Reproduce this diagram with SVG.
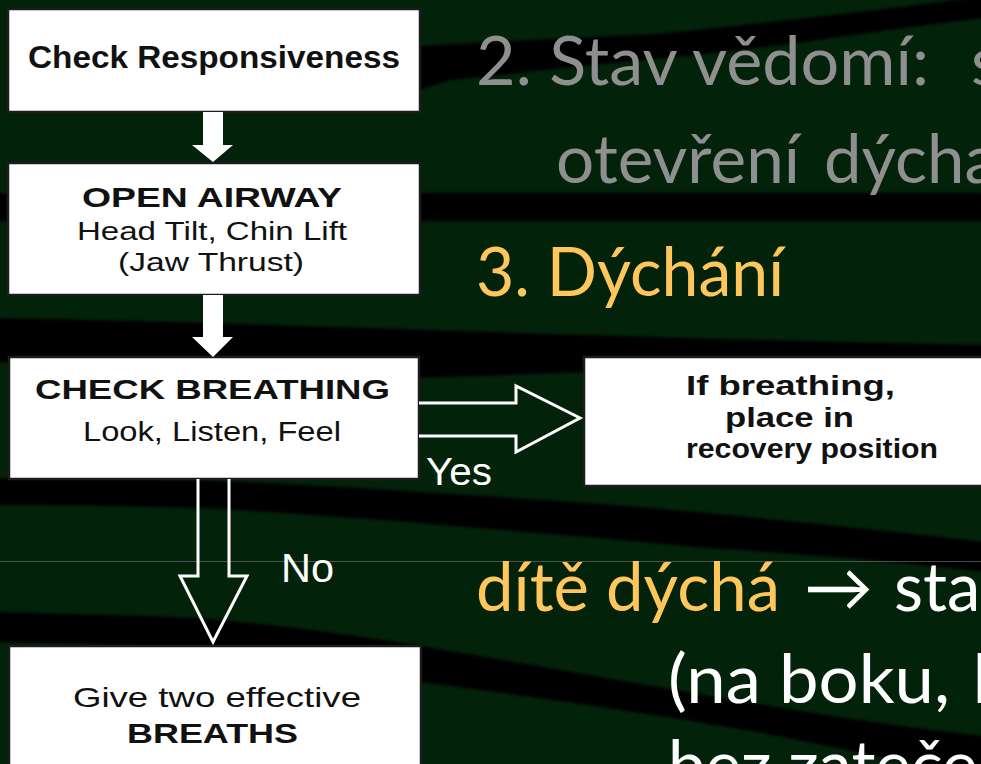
<svg xmlns="http://www.w3.org/2000/svg" width="981" height="764" viewBox="0 0 981 764">
  <defs>
    <filter id="soft" x="-5%" y="-20%" width="110%" height="140%">
      <feGaussianBlur stdDeviation="1.6"/>
    </filter>
    <style>
      .bg { fill: #03220a; }
      .band { fill: #000; }
      .box { fill: #fff; stroke: #1c1c1c; stroke-width: 2.5; }
      .bt { font-family: "Liberation Sans", Arial, sans-serif; fill: #111; }
      .b { font-weight: bold; }
      .lbl { font-family: "Liberation Sans", Arial, sans-serif; fill: #fff; }
      .big { font-family: Lato, "Open Sans", "DejaVu Sans", sans-serif; font-size: 67px; }
      .grey { fill: #8f8f8f; }
      .yel { fill: #ffc65c; }
      .wht { fill: #fff; }
      .solid { fill: #fff; }
      .hollow { fill: none; stroke: #fff; stroke-width: 3; stroke-linejoin: miter; }
    </style>
  </defs>

  <!-- slide background with dark swooshes -->
  <rect class="bg" x="0" y="0" width="981" height="764"/>
  <g filter="url(#soft)">
    <path class="band" d="M420,46 C520,40 600,37 653,34 C700,30 760,23 789,20 C860,12 930,4 985,-4 L985,18 C930,24 860,34 789,44 C740,50 700,55 653,59 C560,68 500,75 450,80 L420,90 Z"/>
    <rect class="band" x="-5" y="193" width="995" height="28"/>
    <path class="band" d="M-5,318 C250,322 500,335 985,345 L985,358 C800,362 600,372 420,378 C250,372 100,365 -5,362 Z"/>
    <path class="band" d="M-5,478 C80,478 150,479 200,480 C290,484 360,488 420,492 C520,498 620,505 696,512 C800,522 900,532 985,542 L985,572 C900,562 800,554 696,547 C600,538 500,530 420,523 C330,516 260,511 200,508 C120,506 60,505 -5,505 Z"/>
    <path class="band" d="M-5,612 C80,614 150,616 200,618 C290,626 360,636 420,646 C530,664 640,684 733,700 C830,716 910,728 985,736 L985,775 C910,766 830,744 733,728 C640,712 530,696 420,682 C330,668 260,656 200,650 C120,645 60,643 -5,642 Z"/>
  </g>
  <line x1="0" y1="561.5" x2="981" y2="561.5" stroke="#6a6a6a" stroke-width="1" opacity="0.7"/>

  <!-- flowchart nodes -->
  <g id="check-responsiveness">
    <rect class="box" x="8" y="9" width="412" height="103"/>
    <text class="bt b" x="28" y="68" font-size="31" textLength="372" lengthAdjust="spacingAndGlyphs">Check Responsiveness</text>
  </g>

  <g id="open-airway">
    <rect class="box" x="8" y="163" width="412" height="132"/>
    <text class="bt b" x="82" y="207" font-size="28" textLength="260" lengthAdjust="spacingAndGlyphs">OPEN AIRWAY</text>
    <text class="bt" x="77" y="240" font-size="25" textLength="270" lengthAdjust="spacingAndGlyphs">Head Tilt, Chin Lift</text>
    <text class="bt" x="118" y="271" font-size="25" textLength="186" lengthAdjust="spacingAndGlyphs">(Jaw Thrust)</text>
  </g>

  <g id="check-breathing">
    <rect class="box" x="9" y="357" width="410" height="122"/>
    <text class="bt b" x="35" y="399" font-size="28" textLength="355" lengthAdjust="spacingAndGlyphs">CHECK BREATHING</text>
    <text class="bt" x="83" y="441" font-size="27" textLength="258" lengthAdjust="spacingAndGlyphs">Look, Listen, Feel</text>
  </g>

  <g id="recovery-position">
    <rect class="box" x="584" y="357" width="410" height="129"/>
    <text class="bt b" x="686" y="395" font-size="27" textLength="209" lengthAdjust="spacingAndGlyphs">If breathing,</text>
    <text class="bt b" x="725" y="427" font-size="27" textLength="129" lengthAdjust="spacingAndGlyphs">place in</text>
    <text class="bt b" x="686" y="458" font-size="27" textLength="252" lengthAdjust="spacingAndGlyphs">recovery position</text>
  </g>

  <g id="give-breaths">
    <rect class="box" x="9" y="646" width="412" height="130"/>
    <text class="bt" x="73" y="707" font-size="28" textLength="288" lengthAdjust="spacingAndGlyphs">Give two effective</text>
    <text class="bt b" x="127" y="743" font-size="28" textLength="171" lengthAdjust="spacingAndGlyphs">BREATHS</text>
  </g>

  <!-- connectors -->
  <g id="connectors">
    <path class="solid" d="M203,112 H223 V145 H233 L213,162 L192,145 H203 Z"/>
    <path class="solid" d="M203,295 H223 V337 H233 L213,357 L192,337 H203 Z"/>
    <path class="hollow" d="M419,403 H516 V386 L580,418 L516,452 V436 H419"/>
    <path class="hollow" d="M198,479 V576 H180 L213,642 L247,576 H229 V479"/>
    <text class="lbl" x="426" y="485" font-size="38" textLength="66" lengthAdjust="spacingAndGlyphs">Yes</text>
    <text class="lbl" x="281" y="582" font-size="40" textLength="53" lengthAdjust="spacingAndGlyphs">No</text>
  </g>

  <!-- slide text -->
  <g id="slide-text" class="big">
    <text class="grey" x="476" y="85" textLength="453" lengthAdjust="spacingAndGlyphs">2. Stav vědomí:</text>
    <text class="grey" x="971" y="85">s</text>
    <text class="grey" x="556" y="183" textLength="244" lengthAdjust="spacingAndGlyphs">otevření</text>
    <text class="grey" x="824" y="183">dýcha</text>
    <text class="yel" x="476" y="296" textLength="308" lengthAdjust="spacingAndGlyphs">3. Dýchání</text>
    <text class="yel" x="476" y="611" textLength="304" lengthAdjust="spacingAndGlyphs">dítě dýchá</text>
    <text class="wht" x="804" y="611" textLength="69" lengthAdjust="spacingAndGlyphs">→</text>
    <text class="wht" x="894" y="611">sta</text>
    <text class="wht" x="668" y="703" textLength="282" lengthAdjust="spacingAndGlyphs">(na boku,</text>
    <text class="wht" x="973" y="703">b</text>
    <text class="wht" x="668" y="789">bez zateče</text>
  </g>
</svg>
